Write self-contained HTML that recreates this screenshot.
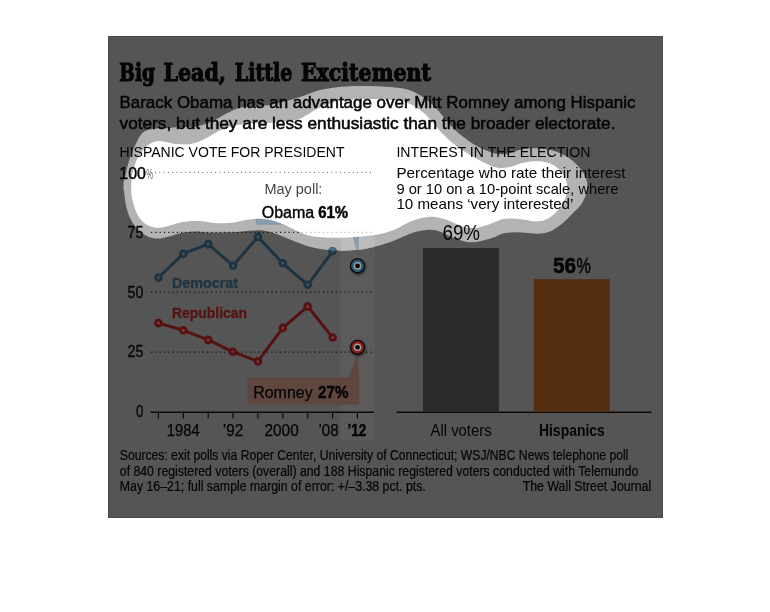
<!DOCTYPE html>
<html><head><meta charset="utf-8"><title>Big Lead, Little Excitement</title>
<style>
html,body{margin:0;padding:0;background:#fff;}
svg{display:block;}
text{font-family:"Liberation Sans","DejaVu Sans",sans-serif;}
.t{font-family:"DejaVu Serif Condensed","DejaVu Serif","Liberation Serif",serif;font-weight:bold;}
.b{font-weight:bold;}
</style></head><body>
<svg width="770" height="612" viewBox="0 0 770 612">
<defs>
<clipPath id="co"><path d="M123.5 188.0C123.5 185.8 123.6 182.2 123.9 180.0C124.2 177.8 124.8 177.5 125.5 174.9C126.2 172.3 126.9 168.1 128.0 164.4C129.1 160.7 130.6 156.4 132.0 152.7C133.4 149.0 135.1 145.2 136.6 142.2C138.1 139.1 139.5 136.3 141.1 134.4C142.7 132.5 144.2 131.4 146.4 130.5C148.6 129.6 151.8 129.2 154.2 128.8C156.5 128.4 157.7 128.5 160.5 128.3C163.3 128.1 167.0 127.9 170.9 127.7C174.8 127.5 179.8 127.2 184.0 127.0C188.2 126.8 192.1 126.9 195.8 126.4C199.5 125.9 202.9 124.9 206.2 123.8C209.5 122.7 212.3 121.3 215.4 119.8C218.5 118.3 221.4 116.2 224.5 114.6C227.6 113.0 230.9 111.2 233.7 110.0C236.5 108.8 238.1 108.1 241.5 107.4C244.9 106.8 250.3 106.4 254.2 106.1C258.1 105.8 261.4 105.8 264.7 105.5C268.0 105.2 270.1 105.0 273.8 104.2C277.5 103.4 282.5 102.1 286.9 100.9C291.3 99.7 295.3 98.6 300.0 97.0C304.7 95.4 310.8 92.7 315.0 91.4C319.2 90.1 321.6 89.7 325.5 89.0C329.4 88.3 333.7 87.5 338.5 87.0C343.3 86.5 349.0 86.2 354.2 86.0C359.4 85.8 364.7 85.9 369.9 86.0C375.1 86.1 380.6 86.4 385.6 86.7C390.6 87.0 395.9 87.4 400.0 88.0C404.1 88.6 407.2 89.3 410.5 90.5C413.8 91.7 416.6 93.2 419.6 95.0C422.7 96.8 426.0 99.3 428.8 101.6C431.6 103.9 434.2 106.3 436.6 108.8C439.0 111.3 440.9 114.0 443.1 116.6C445.3 119.2 447.5 122.0 449.7 124.4C451.9 126.8 453.8 128.8 456.2 131.0C458.6 133.2 461.2 135.3 464.0 137.5C466.8 139.7 469.9 142.0 473.2 144.0C476.5 146.0 480.2 147.8 483.7 149.3C487.2 150.8 490.9 152.4 494.1 153.2C497.3 154.0 500.0 154.2 502.8 154.2C505.6 154.1 507.7 153.7 510.7 152.9C513.7 152.1 517.1 150.4 521.0 149.6C524.9 148.8 529.8 148.3 534.2 148.3C538.6 148.3 543.4 148.9 547.3 149.6C551.2 150.2 554.2 150.9 557.7 152.2C561.2 153.5 565.2 155.5 568.2 157.5C571.2 159.5 573.6 161.6 576.0 164.0C578.4 166.4 580.9 169.2 582.6 171.8C584.4 174.4 585.7 177.1 586.5 179.7C587.3 182.3 587.4 184.7 587.2 187.5C587.0 190.3 586.4 193.6 585.2 196.7C584.0 199.8 582.2 202.9 580.0 205.8C577.8 208.7 574.4 211.6 572.0 214.0C569.6 216.4 568.0 218.3 565.6 220.5C563.2 222.7 560.3 225.2 557.7 227.0C555.1 228.8 552.7 230.5 549.9 231.6C547.1 232.7 544.5 233.4 540.8 233.6C537.1 233.8 532.1 233.1 527.7 232.9C523.3 232.7 518.8 232.2 514.6 232.3C510.5 232.4 506.1 232.8 502.8 233.6C499.5 234.4 498.1 235.9 495.0 237.0C491.9 238.1 487.5 239.4 483.9 240.3C480.3 241.2 476.9 242.2 473.4 242.3C469.9 242.4 466.3 241.8 463.0 241.0C459.7 240.2 456.9 238.9 453.8 237.7C450.8 236.5 447.5 235.0 444.7 233.8C441.9 232.6 439.9 231.2 436.8 230.5C433.8 229.8 429.9 229.7 426.4 229.9C422.9 230.1 419.4 230.8 415.9 231.8C412.4 232.8 409.0 234.4 405.5 235.8C402.0 237.2 399.0 238.8 395.0 240.3C391.0 241.8 385.8 243.6 381.3 244.9C376.8 246.2 372.6 247.3 368.2 248.2C363.8 249.1 359.5 249.7 355.1 250.1C350.7 250.5 346.4 250.8 342.0 250.8C337.6 250.8 333.4 250.5 329.0 250.1C324.6 249.7 319.8 248.9 315.9 248.2C312.0 247.4 309.0 246.7 305.5 245.6C302.0 244.5 298.6 243.0 295.0 241.6C291.4 240.2 287.5 238.4 283.9 237.0C280.3 235.6 276.9 234.2 273.4 233.1C269.9 232.0 266.3 230.9 263.0 230.5C259.7 230.1 256.9 230.4 253.8 230.5C250.8 230.6 248.0 230.9 244.7 231.2C241.4 231.5 238.1 231.9 234.2 232.1C230.2 232.3 225.4 232.4 221.0 232.5C216.6 232.6 212.2 232.7 208.0 232.5C203.8 232.3 199.7 231.6 196.0 231.6C192.3 231.6 188.9 231.9 185.6 232.3C182.3 232.7 179.4 233.4 176.4 234.2C173.4 235.0 170.4 236.2 167.3 236.9C164.2 237.6 161.2 238.6 158.1 238.6C155.0 238.6 151.8 237.9 149.0 236.9C146.2 235.9 143.5 234.2 141.1 232.3C138.7 230.5 136.5 228.4 134.6 225.8C132.7 223.2 130.8 219.9 129.4 216.6C128.0 213.3 127.0 210.0 126.1 206.1C125.2 202.2 124.6 196.1 124.2 193.1C123.8 190.1 123.5 190.2 123.5 188.0Z"/></clipPath>
<clipPath id="ci"><path d="M131.3 187.0C131.3 184.5 131.3 180.4 131.5 178.0C131.7 175.6 131.9 175.0 132.6 172.3C133.3 169.6 134.5 165.1 135.9 161.8C137.3 158.5 139.1 155.4 141.1 152.7C143.1 150.0 145.5 147.3 147.7 145.5C149.9 143.7 152.2 142.6 154.2 141.8C156.1 141.1 157.3 140.9 159.4 141.0C161.5 141.1 164.2 141.8 167.0 142.3C169.8 142.8 172.8 143.7 176.1 144.0C179.4 144.3 183.3 144.6 186.6 144.4C189.9 144.2 192.8 143.6 195.8 142.7C198.9 141.8 201.6 140.4 204.9 138.8C208.2 137.2 212.4 134.5 215.4 132.9C218.4 131.3 220.1 130.2 223.2 129.0C226.2 127.8 230.6 126.5 233.7 125.7C236.8 124.9 238.8 124.8 241.5 124.4C244.2 124.0 245.8 123.4 250.0 123.2C254.2 123.0 261.2 123.3 267.0 123.0C272.8 122.7 279.7 122.1 285.0 121.5C290.3 120.9 295.1 120.2 298.7 119.2C302.3 118.2 303.8 116.8 306.5 115.3C309.2 113.8 312.3 111.5 315.0 110.0C317.7 108.5 319.5 107.3 322.8 106.0C326.1 104.7 330.5 103.0 334.6 102.0C338.8 101.0 342.2 100.3 347.7 99.8C353.1 99.3 360.8 99.1 367.3 99.0C373.8 98.9 381.4 99.1 386.9 99.4C392.3 99.7 396.5 100.3 400.0 100.9C403.5 101.5 405.2 101.9 407.8 102.9C410.4 103.9 413.1 105.2 415.7 106.8C418.3 108.4 420.9 110.4 423.5 112.7C426.1 115.0 429.0 117.9 431.4 120.5C433.8 123.1 435.7 125.9 437.9 128.4C440.1 130.9 442.0 133.2 444.4 135.6C446.8 138.0 449.7 140.5 452.3 142.7C454.9 144.9 457.3 146.6 460.1 148.6C462.9 150.6 466.2 152.7 469.3 154.5C472.4 156.3 475.4 158.1 478.4 159.7C481.3 161.3 484.2 162.7 487.0 164.0C489.8 165.3 492.4 166.7 495.0 167.3C497.6 168.0 500.0 168.0 502.8 167.9C505.6 167.8 509.0 167.4 512.0 166.6C515.0 165.8 517.7 164.2 521.0 163.3C524.3 162.4 528.1 161.7 531.6 161.4C535.1 161.1 538.7 161.0 542.0 161.4C545.3 161.8 548.4 162.7 551.2 164.0C554.0 165.3 556.8 167.2 559.0 169.2C561.2 171.2 563.0 173.4 564.3 175.8C565.6 178.2 566.5 181.0 566.9 183.6C567.3 186.2 567.3 188.6 566.9 191.4C566.5 194.2 565.6 197.7 564.3 200.6C563.0 203.5 561.2 206.3 559.0 209.0C556.8 211.7 553.8 214.7 551.2 216.6C548.6 218.5 546.2 219.7 543.4 220.5C540.6 221.3 537.9 221.4 534.2 221.2C530.5 221.0 525.4 219.6 521.0 219.2C516.6 218.8 511.5 218.5 508.0 218.6C504.5 218.7 502.4 219.3 500.2 219.9C498.0 220.5 497.3 221.1 495.0 222.0C492.7 222.9 489.7 224.3 486.5 225.3C483.3 226.3 479.5 227.6 476.0 227.9C472.5 228.2 468.9 228.0 465.6 227.3C462.3 226.7 459.4 225.2 456.4 224.0C453.3 222.8 450.6 221.1 447.3 220.0C444.0 218.9 440.3 217.7 436.8 217.2C433.3 216.7 429.9 216.8 426.4 217.2C422.9 217.6 419.4 218.3 415.9 219.4C412.4 220.5 409.0 222.3 405.5 224.0C402.0 225.7 399.0 227.9 395.0 229.5C391.0 231.1 385.8 232.8 381.3 233.8C376.8 234.9 372.6 235.3 368.2 235.8C363.8 236.3 359.5 236.7 355.1 237.0C350.7 237.3 346.4 237.6 342.0 237.7C337.6 237.8 333.4 237.8 329.0 237.7C324.6 237.5 319.8 237.4 315.9 236.8C312.0 236.2 309.0 235.5 305.5 234.4C302.0 233.3 298.6 231.6 295.0 230.0C291.4 228.4 287.5 226.2 283.9 224.6C280.3 223.0 276.9 221.6 273.4 220.7C269.9 219.8 266.3 219.3 263.0 219.0C259.7 218.7 256.9 218.8 253.8 219.0C250.8 219.2 248.0 219.7 244.7 220.3C241.4 220.9 238.1 221.9 234.2 222.4C230.3 222.9 224.8 223.2 221.1 223.3C217.4 223.4 214.8 223.0 212.0 222.7C209.2 222.4 207.0 221.7 204.2 221.4C201.4 221.1 197.4 221.1 195.0 221.1C192.6 221.1 191.9 221.0 189.5 221.2C187.1 221.4 183.5 221.8 180.4 222.5C177.3 223.2 174.0 224.3 171.2 225.1C168.4 225.9 166.0 226.9 163.4 227.3C160.8 227.7 158.1 228.1 155.5 227.7C152.9 227.3 150.1 226.4 147.7 225.1C145.3 223.8 142.9 222.0 141.1 219.9C139.2 217.8 137.9 215.4 136.6 212.7C135.3 210.0 134.2 206.8 133.3 203.5C132.4 200.2 131.6 195.8 131.3 193.1C131.0 190.3 131.3 189.5 131.3 187.0Z"/></clipPath>
<clipPath id="dk"><path clip-rule="evenodd" d="M108 36H663V518H108Z M123.5 188.0C123.5 185.8 123.6 182.2 123.9 180.0C124.2 177.8 124.8 177.5 125.5 174.9C126.2 172.3 126.9 168.1 128.0 164.4C129.1 160.7 130.6 156.4 132.0 152.7C133.4 149.0 135.1 145.2 136.6 142.2C138.1 139.1 139.5 136.3 141.1 134.4C142.7 132.5 144.2 131.4 146.4 130.5C148.6 129.6 151.8 129.2 154.2 128.8C156.5 128.4 157.7 128.5 160.5 128.3C163.3 128.1 167.0 127.9 170.9 127.7C174.8 127.5 179.8 127.2 184.0 127.0C188.2 126.8 192.1 126.9 195.8 126.4C199.5 125.9 202.9 124.9 206.2 123.8C209.5 122.7 212.3 121.3 215.4 119.8C218.5 118.3 221.4 116.2 224.5 114.6C227.6 113.0 230.9 111.2 233.7 110.0C236.5 108.8 238.1 108.1 241.5 107.4C244.9 106.8 250.3 106.4 254.2 106.1C258.1 105.8 261.4 105.8 264.7 105.5C268.0 105.2 270.1 105.0 273.8 104.2C277.5 103.4 282.5 102.1 286.9 100.9C291.3 99.7 295.3 98.6 300.0 97.0C304.7 95.4 310.8 92.7 315.0 91.4C319.2 90.1 321.6 89.7 325.5 89.0C329.4 88.3 333.7 87.5 338.5 87.0C343.3 86.5 349.0 86.2 354.2 86.0C359.4 85.8 364.7 85.9 369.9 86.0C375.1 86.1 380.6 86.4 385.6 86.7C390.6 87.0 395.9 87.4 400.0 88.0C404.1 88.6 407.2 89.3 410.5 90.5C413.8 91.7 416.6 93.2 419.6 95.0C422.7 96.8 426.0 99.3 428.8 101.6C431.6 103.9 434.2 106.3 436.6 108.8C439.0 111.3 440.9 114.0 443.1 116.6C445.3 119.2 447.5 122.0 449.7 124.4C451.9 126.8 453.8 128.8 456.2 131.0C458.6 133.2 461.2 135.3 464.0 137.5C466.8 139.7 469.9 142.0 473.2 144.0C476.5 146.0 480.2 147.8 483.7 149.3C487.2 150.8 490.9 152.4 494.1 153.2C497.3 154.0 500.0 154.2 502.8 154.2C505.6 154.1 507.7 153.7 510.7 152.9C513.7 152.1 517.1 150.4 521.0 149.6C524.9 148.8 529.8 148.3 534.2 148.3C538.6 148.3 543.4 148.9 547.3 149.6C551.2 150.2 554.2 150.9 557.7 152.2C561.2 153.5 565.2 155.5 568.2 157.5C571.2 159.5 573.6 161.6 576.0 164.0C578.4 166.4 580.9 169.2 582.6 171.8C584.4 174.4 585.7 177.1 586.5 179.7C587.3 182.3 587.4 184.7 587.2 187.5C587.0 190.3 586.4 193.6 585.2 196.7C584.0 199.8 582.2 202.9 580.0 205.8C577.8 208.7 574.4 211.6 572.0 214.0C569.6 216.4 568.0 218.3 565.6 220.5C563.2 222.7 560.3 225.2 557.7 227.0C555.1 228.8 552.7 230.5 549.9 231.6C547.1 232.7 544.5 233.4 540.8 233.6C537.1 233.8 532.1 233.1 527.7 232.9C523.3 232.7 518.8 232.2 514.6 232.3C510.5 232.4 506.1 232.8 502.8 233.6C499.5 234.4 498.1 235.9 495.0 237.0C491.9 238.1 487.5 239.4 483.9 240.3C480.3 241.2 476.9 242.2 473.4 242.3C469.9 242.4 466.3 241.8 463.0 241.0C459.7 240.2 456.9 238.9 453.8 237.7C450.8 236.5 447.5 235.0 444.7 233.8C441.9 232.6 439.9 231.2 436.8 230.5C433.8 229.8 429.9 229.7 426.4 229.9C422.9 230.1 419.4 230.8 415.9 231.8C412.4 232.8 409.0 234.4 405.5 235.8C402.0 237.2 399.0 238.8 395.0 240.3C391.0 241.8 385.8 243.6 381.3 244.9C376.8 246.2 372.6 247.3 368.2 248.2C363.8 249.1 359.5 249.7 355.1 250.1C350.7 250.5 346.4 250.8 342.0 250.8C337.6 250.8 333.4 250.5 329.0 250.1C324.6 249.7 319.8 248.9 315.9 248.2C312.0 247.4 309.0 246.7 305.5 245.6C302.0 244.5 298.6 243.0 295.0 241.6C291.4 240.2 287.5 238.4 283.9 237.0C280.3 235.6 276.9 234.2 273.4 233.1C269.9 232.0 266.3 230.9 263.0 230.5C259.7 230.1 256.9 230.4 253.8 230.5C250.8 230.6 248.0 230.9 244.7 231.2C241.4 231.5 238.1 231.9 234.2 232.1C230.2 232.3 225.4 232.4 221.0 232.5C216.6 232.6 212.2 232.7 208.0 232.5C203.8 232.3 199.7 231.6 196.0 231.6C192.3 231.6 188.9 231.9 185.6 232.3C182.3 232.7 179.4 233.4 176.4 234.2C173.4 235.0 170.4 236.2 167.3 236.9C164.2 237.6 161.2 238.6 158.1 238.6C155.0 238.6 151.8 237.9 149.0 236.9C146.2 235.9 143.5 234.2 141.1 232.3C138.7 230.5 136.5 228.4 134.6 225.8C132.7 223.2 130.8 219.9 129.4 216.6C128.0 213.3 127.0 210.0 126.1 206.1C125.2 202.2 124.6 196.1 124.2 193.1C123.8 190.1 123.5 190.2 123.5 188.0Z"/></clipPath>
<clipPath id="rg"><path clip-rule="evenodd" d="M123.5 188.0C123.5 185.8 123.6 182.2 123.9 180.0C124.2 177.8 124.8 177.5 125.5 174.9C126.2 172.3 126.9 168.1 128.0 164.4C129.1 160.7 130.6 156.4 132.0 152.7C133.4 149.0 135.1 145.2 136.6 142.2C138.1 139.1 139.5 136.3 141.1 134.4C142.7 132.5 144.2 131.4 146.4 130.5C148.6 129.6 151.8 129.2 154.2 128.8C156.5 128.4 157.7 128.5 160.5 128.3C163.3 128.1 167.0 127.9 170.9 127.7C174.8 127.5 179.8 127.2 184.0 127.0C188.2 126.8 192.1 126.9 195.8 126.4C199.5 125.9 202.9 124.9 206.2 123.8C209.5 122.7 212.3 121.3 215.4 119.8C218.5 118.3 221.4 116.2 224.5 114.6C227.6 113.0 230.9 111.2 233.7 110.0C236.5 108.8 238.1 108.1 241.5 107.4C244.9 106.8 250.3 106.4 254.2 106.1C258.1 105.8 261.4 105.8 264.7 105.5C268.0 105.2 270.1 105.0 273.8 104.2C277.5 103.4 282.5 102.1 286.9 100.9C291.3 99.7 295.3 98.6 300.0 97.0C304.7 95.4 310.8 92.7 315.0 91.4C319.2 90.1 321.6 89.7 325.5 89.0C329.4 88.3 333.7 87.5 338.5 87.0C343.3 86.5 349.0 86.2 354.2 86.0C359.4 85.8 364.7 85.9 369.9 86.0C375.1 86.1 380.6 86.4 385.6 86.7C390.6 87.0 395.9 87.4 400.0 88.0C404.1 88.6 407.2 89.3 410.5 90.5C413.8 91.7 416.6 93.2 419.6 95.0C422.7 96.8 426.0 99.3 428.8 101.6C431.6 103.9 434.2 106.3 436.6 108.8C439.0 111.3 440.9 114.0 443.1 116.6C445.3 119.2 447.5 122.0 449.7 124.4C451.9 126.8 453.8 128.8 456.2 131.0C458.6 133.2 461.2 135.3 464.0 137.5C466.8 139.7 469.9 142.0 473.2 144.0C476.5 146.0 480.2 147.8 483.7 149.3C487.2 150.8 490.9 152.4 494.1 153.2C497.3 154.0 500.0 154.2 502.8 154.2C505.6 154.1 507.7 153.7 510.7 152.9C513.7 152.1 517.1 150.4 521.0 149.6C524.9 148.8 529.8 148.3 534.2 148.3C538.6 148.3 543.4 148.9 547.3 149.6C551.2 150.2 554.2 150.9 557.7 152.2C561.2 153.5 565.2 155.5 568.2 157.5C571.2 159.5 573.6 161.6 576.0 164.0C578.4 166.4 580.9 169.2 582.6 171.8C584.4 174.4 585.7 177.1 586.5 179.7C587.3 182.3 587.4 184.7 587.2 187.5C587.0 190.3 586.4 193.6 585.2 196.7C584.0 199.8 582.2 202.9 580.0 205.8C577.8 208.7 574.4 211.6 572.0 214.0C569.6 216.4 568.0 218.3 565.6 220.5C563.2 222.7 560.3 225.2 557.7 227.0C555.1 228.8 552.7 230.5 549.9 231.6C547.1 232.7 544.5 233.4 540.8 233.6C537.1 233.8 532.1 233.1 527.7 232.9C523.3 232.7 518.8 232.2 514.6 232.3C510.5 232.4 506.1 232.8 502.8 233.6C499.5 234.4 498.1 235.9 495.0 237.0C491.9 238.1 487.5 239.4 483.9 240.3C480.3 241.2 476.9 242.2 473.4 242.3C469.9 242.4 466.3 241.8 463.0 241.0C459.7 240.2 456.9 238.9 453.8 237.7C450.8 236.5 447.5 235.0 444.7 233.8C441.9 232.6 439.9 231.2 436.8 230.5C433.8 229.8 429.9 229.7 426.4 229.9C422.9 230.1 419.4 230.8 415.9 231.8C412.4 232.8 409.0 234.4 405.5 235.8C402.0 237.2 399.0 238.8 395.0 240.3C391.0 241.8 385.8 243.6 381.3 244.9C376.8 246.2 372.6 247.3 368.2 248.2C363.8 249.1 359.5 249.7 355.1 250.1C350.7 250.5 346.4 250.8 342.0 250.8C337.6 250.8 333.4 250.5 329.0 250.1C324.6 249.7 319.8 248.9 315.9 248.2C312.0 247.4 309.0 246.7 305.5 245.6C302.0 244.5 298.6 243.0 295.0 241.6C291.4 240.2 287.5 238.4 283.9 237.0C280.3 235.6 276.9 234.2 273.4 233.1C269.9 232.0 266.3 230.9 263.0 230.5C259.7 230.1 256.9 230.4 253.8 230.5C250.8 230.6 248.0 230.9 244.7 231.2C241.4 231.5 238.1 231.9 234.2 232.1C230.2 232.3 225.4 232.4 221.0 232.5C216.6 232.6 212.2 232.7 208.0 232.5C203.8 232.3 199.7 231.6 196.0 231.6C192.3 231.6 188.9 231.9 185.6 232.3C182.3 232.7 179.4 233.4 176.4 234.2C173.4 235.0 170.4 236.2 167.3 236.9C164.2 237.6 161.2 238.6 158.1 238.6C155.0 238.6 151.8 237.9 149.0 236.9C146.2 235.9 143.5 234.2 141.1 232.3C138.7 230.5 136.5 228.4 134.6 225.8C132.7 223.2 130.8 219.9 129.4 216.6C128.0 213.3 127.0 210.0 126.1 206.1C125.2 202.2 124.6 196.1 124.2 193.1C123.8 190.1 123.5 190.2 123.5 188.0Z M131.3 187.0C131.3 184.5 131.3 180.4 131.5 178.0C131.7 175.6 131.9 175.0 132.6 172.3C133.3 169.6 134.5 165.1 135.9 161.8C137.3 158.5 139.1 155.4 141.1 152.7C143.1 150.0 145.5 147.3 147.7 145.5C149.9 143.7 152.2 142.6 154.2 141.8C156.1 141.1 157.3 140.9 159.4 141.0C161.5 141.1 164.2 141.8 167.0 142.3C169.8 142.8 172.8 143.7 176.1 144.0C179.4 144.3 183.3 144.6 186.6 144.4C189.9 144.2 192.8 143.6 195.8 142.7C198.9 141.8 201.6 140.4 204.9 138.8C208.2 137.2 212.4 134.5 215.4 132.9C218.4 131.3 220.1 130.2 223.2 129.0C226.2 127.8 230.6 126.5 233.7 125.7C236.8 124.9 238.8 124.8 241.5 124.4C244.2 124.0 245.8 123.4 250.0 123.2C254.2 123.0 261.2 123.3 267.0 123.0C272.8 122.7 279.7 122.1 285.0 121.5C290.3 120.9 295.1 120.2 298.7 119.2C302.3 118.2 303.8 116.8 306.5 115.3C309.2 113.8 312.3 111.5 315.0 110.0C317.7 108.5 319.5 107.3 322.8 106.0C326.1 104.7 330.5 103.0 334.6 102.0C338.8 101.0 342.2 100.3 347.7 99.8C353.1 99.3 360.8 99.1 367.3 99.0C373.8 98.9 381.4 99.1 386.9 99.4C392.3 99.7 396.5 100.3 400.0 100.9C403.5 101.5 405.2 101.9 407.8 102.9C410.4 103.9 413.1 105.2 415.7 106.8C418.3 108.4 420.9 110.4 423.5 112.7C426.1 115.0 429.0 117.9 431.4 120.5C433.8 123.1 435.7 125.9 437.9 128.4C440.1 130.9 442.0 133.2 444.4 135.6C446.8 138.0 449.7 140.5 452.3 142.7C454.9 144.9 457.3 146.6 460.1 148.6C462.9 150.6 466.2 152.7 469.3 154.5C472.4 156.3 475.4 158.1 478.4 159.7C481.3 161.3 484.2 162.7 487.0 164.0C489.8 165.3 492.4 166.7 495.0 167.3C497.6 168.0 500.0 168.0 502.8 167.9C505.6 167.8 509.0 167.4 512.0 166.6C515.0 165.8 517.7 164.2 521.0 163.3C524.3 162.4 528.1 161.7 531.6 161.4C535.1 161.1 538.7 161.0 542.0 161.4C545.3 161.8 548.4 162.7 551.2 164.0C554.0 165.3 556.8 167.2 559.0 169.2C561.2 171.2 563.0 173.4 564.3 175.8C565.6 178.2 566.5 181.0 566.9 183.6C567.3 186.2 567.3 188.6 566.9 191.4C566.5 194.2 565.6 197.7 564.3 200.6C563.0 203.5 561.2 206.3 559.0 209.0C556.8 211.7 553.8 214.7 551.2 216.6C548.6 218.5 546.2 219.7 543.4 220.5C540.6 221.3 537.9 221.4 534.2 221.2C530.5 221.0 525.4 219.6 521.0 219.2C516.6 218.8 511.5 218.5 508.0 218.6C504.5 218.7 502.4 219.3 500.2 219.9C498.0 220.5 497.3 221.1 495.0 222.0C492.7 222.9 489.7 224.3 486.5 225.3C483.3 226.3 479.5 227.6 476.0 227.9C472.5 228.2 468.9 228.0 465.6 227.3C462.3 226.7 459.4 225.2 456.4 224.0C453.3 222.8 450.6 221.1 447.3 220.0C444.0 218.9 440.3 217.7 436.8 217.2C433.3 216.7 429.9 216.8 426.4 217.2C422.9 217.6 419.4 218.3 415.9 219.4C412.4 220.5 409.0 222.3 405.5 224.0C402.0 225.7 399.0 227.9 395.0 229.5C391.0 231.1 385.8 232.8 381.3 233.8C376.8 234.9 372.6 235.3 368.2 235.8C363.8 236.3 359.5 236.7 355.1 237.0C350.7 237.3 346.4 237.6 342.0 237.7C337.6 237.8 333.4 237.8 329.0 237.7C324.6 237.5 319.8 237.4 315.9 236.8C312.0 236.2 309.0 235.5 305.5 234.4C302.0 233.3 298.6 231.6 295.0 230.0C291.4 228.4 287.5 226.2 283.9 224.6C280.3 223.0 276.9 221.6 273.4 220.7C269.9 219.8 266.3 219.3 263.0 219.0C259.7 218.7 256.9 218.8 253.8 219.0C250.8 219.2 248.0 219.7 244.7 220.3C241.4 220.9 238.1 221.9 234.2 222.4C230.3 222.9 224.8 223.2 221.1 223.3C217.4 223.4 214.8 223.0 212.0 222.7C209.2 222.4 207.0 221.7 204.2 221.4C201.4 221.1 197.4 221.1 195.0 221.1C192.6 221.1 191.9 221.0 189.5 221.2C187.1 221.4 183.5 221.8 180.4 222.5C177.3 223.2 174.0 224.3 171.2 225.1C168.4 225.9 166.0 226.9 163.4 227.3C160.8 227.7 158.1 228.1 155.5 227.7C152.9 227.3 150.1 226.4 147.7 225.1C145.3 223.8 142.9 222.0 141.1 219.9C139.2 217.8 137.9 215.4 136.6 212.7C135.3 210.0 134.2 206.8 133.3 203.5C132.4 200.2 131.6 195.8 131.3 193.1C131.0 190.3 131.3 189.5 131.3 187.0Z"/></clipPath>
<clipPath id="ni"><path clip-rule="evenodd" d="M108 36H663V518H108Z M131.3 187.0C131.3 184.5 131.3 180.4 131.5 178.0C131.7 175.6 131.9 175.0 132.6 172.3C133.3 169.6 134.5 165.1 135.9 161.8C137.3 158.5 139.1 155.4 141.1 152.7C143.1 150.0 145.5 147.3 147.7 145.5C149.9 143.7 152.2 142.6 154.2 141.8C156.1 141.1 157.3 140.9 159.4 141.0C161.5 141.1 164.2 141.8 167.0 142.3C169.8 142.8 172.8 143.7 176.1 144.0C179.4 144.3 183.3 144.6 186.6 144.4C189.9 144.2 192.8 143.6 195.8 142.7C198.9 141.8 201.6 140.4 204.9 138.8C208.2 137.2 212.4 134.5 215.4 132.9C218.4 131.3 220.1 130.2 223.2 129.0C226.2 127.8 230.6 126.5 233.7 125.7C236.8 124.9 238.8 124.8 241.5 124.4C244.2 124.0 245.8 123.4 250.0 123.2C254.2 123.0 261.2 123.3 267.0 123.0C272.8 122.7 279.7 122.1 285.0 121.5C290.3 120.9 295.1 120.2 298.7 119.2C302.3 118.2 303.8 116.8 306.5 115.3C309.2 113.8 312.3 111.5 315.0 110.0C317.7 108.5 319.5 107.3 322.8 106.0C326.1 104.7 330.5 103.0 334.6 102.0C338.8 101.0 342.2 100.3 347.7 99.8C353.1 99.3 360.8 99.1 367.3 99.0C373.8 98.9 381.4 99.1 386.9 99.4C392.3 99.7 396.5 100.3 400.0 100.9C403.5 101.5 405.2 101.9 407.8 102.9C410.4 103.9 413.1 105.2 415.7 106.8C418.3 108.4 420.9 110.4 423.5 112.7C426.1 115.0 429.0 117.9 431.4 120.5C433.8 123.1 435.7 125.9 437.9 128.4C440.1 130.9 442.0 133.2 444.4 135.6C446.8 138.0 449.7 140.5 452.3 142.7C454.9 144.9 457.3 146.6 460.1 148.6C462.9 150.6 466.2 152.7 469.3 154.5C472.4 156.3 475.4 158.1 478.4 159.7C481.3 161.3 484.2 162.7 487.0 164.0C489.8 165.3 492.4 166.7 495.0 167.3C497.6 168.0 500.0 168.0 502.8 167.9C505.6 167.8 509.0 167.4 512.0 166.6C515.0 165.8 517.7 164.2 521.0 163.3C524.3 162.4 528.1 161.7 531.6 161.4C535.1 161.1 538.7 161.0 542.0 161.4C545.3 161.8 548.4 162.7 551.2 164.0C554.0 165.3 556.8 167.2 559.0 169.2C561.2 171.2 563.0 173.4 564.3 175.8C565.6 178.2 566.5 181.0 566.9 183.6C567.3 186.2 567.3 188.6 566.9 191.4C566.5 194.2 565.6 197.7 564.3 200.6C563.0 203.5 561.2 206.3 559.0 209.0C556.8 211.7 553.8 214.7 551.2 216.6C548.6 218.5 546.2 219.7 543.4 220.5C540.6 221.3 537.9 221.4 534.2 221.2C530.5 221.0 525.4 219.6 521.0 219.2C516.6 218.8 511.5 218.5 508.0 218.6C504.5 218.7 502.4 219.3 500.2 219.9C498.0 220.5 497.3 221.1 495.0 222.0C492.7 222.9 489.7 224.3 486.5 225.3C483.3 226.3 479.5 227.6 476.0 227.9C472.5 228.2 468.9 228.0 465.6 227.3C462.3 226.7 459.4 225.2 456.4 224.0C453.3 222.8 450.6 221.1 447.3 220.0C444.0 218.9 440.3 217.7 436.8 217.2C433.3 216.7 429.9 216.8 426.4 217.2C422.9 217.6 419.4 218.3 415.9 219.4C412.4 220.5 409.0 222.3 405.5 224.0C402.0 225.7 399.0 227.9 395.0 229.5C391.0 231.1 385.8 232.8 381.3 233.8C376.8 234.9 372.6 235.3 368.2 235.8C363.8 236.3 359.5 236.7 355.1 237.0C350.7 237.3 346.4 237.6 342.0 237.7C337.6 237.8 333.4 237.8 329.0 237.7C324.6 237.5 319.8 237.4 315.9 236.8C312.0 236.2 309.0 235.5 305.5 234.4C302.0 233.3 298.6 231.6 295.0 230.0C291.4 228.4 287.5 226.2 283.9 224.6C280.3 223.0 276.9 221.6 273.4 220.7C269.9 219.8 266.3 219.3 263.0 219.0C259.7 218.7 256.9 218.8 253.8 219.0C250.8 219.2 248.0 219.7 244.7 220.3C241.4 220.9 238.1 221.9 234.2 222.4C230.3 222.9 224.8 223.2 221.1 223.3C217.4 223.4 214.8 223.0 212.0 222.7C209.2 222.4 207.0 221.7 204.2 221.4C201.4 221.1 197.4 221.1 195.0 221.1C192.6 221.1 191.9 221.0 189.5 221.2C187.1 221.4 183.5 221.8 180.4 222.5C177.3 223.2 174.0 224.3 171.2 225.1C168.4 225.9 166.0 226.9 163.4 227.3C160.8 227.7 158.1 228.1 155.5 227.7C152.9 227.3 150.1 226.4 147.7 225.1C145.3 223.8 142.9 222.0 141.1 219.9C139.2 217.8 137.9 215.4 136.6 212.7C135.3 210.0 134.2 206.8 133.3 203.5C132.4 200.2 131.6 195.8 131.3 193.1C131.0 190.3 131.3 189.5 131.3 187.0Z"/></clipPath>
<filter id="sh" x="-50%" y="-50%" width="200%" height="200%"><feGaussianBlur stdDeviation="1.3"/></filter>
</defs>
<rect x="0" y="0" width="770" height="612" fill="#fff"/>
<rect x="108" y="36" width="555" height="482" fill="#555"/>
<rect x="108.5" y="36.5" width="554" height="481" fill="none" stroke="#4a4a4a" stroke-width="1"/>
<!-- 2012 band (dark) -->
<rect x="340.6" y="172" width="34" height="268" fill="#5b5b5b"/>
<!-- spotlight -->
<path d="M123.5 188.0C123.5 185.8 123.6 182.2 123.9 180.0C124.2 177.8 124.8 177.5 125.5 174.9C126.2 172.3 126.9 168.1 128.0 164.4C129.1 160.7 130.6 156.4 132.0 152.7C133.4 149.0 135.1 145.2 136.6 142.2C138.1 139.1 139.5 136.3 141.1 134.4C142.7 132.5 144.2 131.4 146.4 130.5C148.6 129.6 151.8 129.2 154.2 128.8C156.5 128.4 157.7 128.5 160.5 128.3C163.3 128.1 167.0 127.9 170.9 127.7C174.8 127.5 179.8 127.2 184.0 127.0C188.2 126.8 192.1 126.9 195.8 126.4C199.5 125.9 202.9 124.9 206.2 123.8C209.5 122.7 212.3 121.3 215.4 119.8C218.5 118.3 221.4 116.2 224.5 114.6C227.6 113.0 230.9 111.2 233.7 110.0C236.5 108.8 238.1 108.1 241.5 107.4C244.9 106.8 250.3 106.4 254.2 106.1C258.1 105.8 261.4 105.8 264.7 105.5C268.0 105.2 270.1 105.0 273.8 104.2C277.5 103.4 282.5 102.1 286.9 100.9C291.3 99.7 295.3 98.6 300.0 97.0C304.7 95.4 310.8 92.7 315.0 91.4C319.2 90.1 321.6 89.7 325.5 89.0C329.4 88.3 333.7 87.5 338.5 87.0C343.3 86.5 349.0 86.2 354.2 86.0C359.4 85.8 364.7 85.9 369.9 86.0C375.1 86.1 380.6 86.4 385.6 86.7C390.6 87.0 395.9 87.4 400.0 88.0C404.1 88.6 407.2 89.3 410.5 90.5C413.8 91.7 416.6 93.2 419.6 95.0C422.7 96.8 426.0 99.3 428.8 101.6C431.6 103.9 434.2 106.3 436.6 108.8C439.0 111.3 440.9 114.0 443.1 116.6C445.3 119.2 447.5 122.0 449.7 124.4C451.9 126.8 453.8 128.8 456.2 131.0C458.6 133.2 461.2 135.3 464.0 137.5C466.8 139.7 469.9 142.0 473.2 144.0C476.5 146.0 480.2 147.8 483.7 149.3C487.2 150.8 490.9 152.4 494.1 153.2C497.3 154.0 500.0 154.2 502.8 154.2C505.6 154.1 507.7 153.7 510.7 152.9C513.7 152.1 517.1 150.4 521.0 149.6C524.9 148.8 529.8 148.3 534.2 148.3C538.6 148.3 543.4 148.9 547.3 149.6C551.2 150.2 554.2 150.9 557.7 152.2C561.2 153.5 565.2 155.5 568.2 157.5C571.2 159.5 573.6 161.6 576.0 164.0C578.4 166.4 580.9 169.2 582.6 171.8C584.4 174.4 585.7 177.1 586.5 179.7C587.3 182.3 587.4 184.7 587.2 187.5C587.0 190.3 586.4 193.6 585.2 196.7C584.0 199.8 582.2 202.9 580.0 205.8C577.8 208.7 574.4 211.6 572.0 214.0C569.6 216.4 568.0 218.3 565.6 220.5C563.2 222.7 560.3 225.2 557.7 227.0C555.1 228.8 552.7 230.5 549.9 231.6C547.1 232.7 544.5 233.4 540.8 233.6C537.1 233.8 532.1 233.1 527.7 232.9C523.3 232.7 518.8 232.2 514.6 232.3C510.5 232.4 506.1 232.8 502.8 233.6C499.5 234.4 498.1 235.9 495.0 237.0C491.9 238.1 487.5 239.4 483.9 240.3C480.3 241.2 476.9 242.2 473.4 242.3C469.9 242.4 466.3 241.8 463.0 241.0C459.7 240.2 456.9 238.9 453.8 237.7C450.8 236.5 447.5 235.0 444.7 233.8C441.9 232.6 439.9 231.2 436.8 230.5C433.8 229.8 429.9 229.7 426.4 229.9C422.9 230.1 419.4 230.8 415.9 231.8C412.4 232.8 409.0 234.4 405.5 235.8C402.0 237.2 399.0 238.8 395.0 240.3C391.0 241.8 385.8 243.6 381.3 244.9C376.8 246.2 372.6 247.3 368.2 248.2C363.8 249.1 359.5 249.7 355.1 250.1C350.7 250.5 346.4 250.8 342.0 250.8C337.6 250.8 333.4 250.5 329.0 250.1C324.6 249.7 319.8 248.9 315.9 248.2C312.0 247.4 309.0 246.7 305.5 245.6C302.0 244.5 298.6 243.0 295.0 241.6C291.4 240.2 287.5 238.4 283.9 237.0C280.3 235.6 276.9 234.2 273.4 233.1C269.9 232.0 266.3 230.9 263.0 230.5C259.7 230.1 256.9 230.4 253.8 230.5C250.8 230.6 248.0 230.9 244.7 231.2C241.4 231.5 238.1 231.9 234.2 232.1C230.2 232.3 225.4 232.4 221.0 232.5C216.6 232.6 212.2 232.7 208.0 232.5C203.8 232.3 199.7 231.6 196.0 231.6C192.3 231.6 188.9 231.9 185.6 232.3C182.3 232.7 179.4 233.4 176.4 234.2C173.4 235.0 170.4 236.2 167.3 236.9C164.2 237.6 161.2 238.6 158.1 238.6C155.0 238.6 151.8 237.9 149.0 236.9C146.2 235.9 143.5 234.2 141.1 232.3C138.7 230.5 136.5 228.4 134.6 225.8C132.7 223.2 130.8 219.9 129.4 216.6C128.0 213.3 127.0 210.0 126.1 206.1C125.2 202.2 124.6 196.1 124.2 193.1C123.8 190.1 123.5 190.2 123.5 188.0Z" fill="#b3b3b3"/>
<g clip-path="url(#co)"><rect x="340.6" y="172" width="34" height="268" fill="#bcbcbc"/>
<rect x="255.7" y="180" width="94" height="44.8" fill="#8a9cac"/>
<polygon points="349,224 359.6,224 358.3,256" fill="#8a9cac"/>
</g>
<path d="M131.3 187.0C131.3 184.5 131.3 180.4 131.5 178.0C131.7 175.6 131.9 175.0 132.6 172.3C133.3 169.6 134.5 165.1 135.9 161.8C137.3 158.5 139.1 155.4 141.1 152.7C143.1 150.0 145.5 147.3 147.7 145.5C149.9 143.7 152.2 142.6 154.2 141.8C156.1 141.1 157.3 140.9 159.4 141.0C161.5 141.1 164.2 141.8 167.0 142.3C169.8 142.8 172.8 143.7 176.1 144.0C179.4 144.3 183.3 144.6 186.6 144.4C189.9 144.2 192.8 143.6 195.8 142.7C198.9 141.8 201.6 140.4 204.9 138.8C208.2 137.2 212.4 134.5 215.4 132.9C218.4 131.3 220.1 130.2 223.2 129.0C226.2 127.8 230.6 126.5 233.7 125.7C236.8 124.9 238.8 124.8 241.5 124.4C244.2 124.0 245.8 123.4 250.0 123.2C254.2 123.0 261.2 123.3 267.0 123.0C272.8 122.7 279.7 122.1 285.0 121.5C290.3 120.9 295.1 120.2 298.7 119.2C302.3 118.2 303.8 116.8 306.5 115.3C309.2 113.8 312.3 111.5 315.0 110.0C317.7 108.5 319.5 107.3 322.8 106.0C326.1 104.7 330.5 103.0 334.6 102.0C338.8 101.0 342.2 100.3 347.7 99.8C353.1 99.3 360.8 99.1 367.3 99.0C373.8 98.9 381.4 99.1 386.9 99.4C392.3 99.7 396.5 100.3 400.0 100.9C403.5 101.5 405.2 101.9 407.8 102.9C410.4 103.9 413.1 105.2 415.7 106.8C418.3 108.4 420.9 110.4 423.5 112.7C426.1 115.0 429.0 117.9 431.4 120.5C433.8 123.1 435.7 125.9 437.9 128.4C440.1 130.9 442.0 133.2 444.4 135.6C446.8 138.0 449.7 140.5 452.3 142.7C454.9 144.9 457.3 146.6 460.1 148.6C462.9 150.6 466.2 152.7 469.3 154.5C472.4 156.3 475.4 158.1 478.4 159.7C481.3 161.3 484.2 162.7 487.0 164.0C489.8 165.3 492.4 166.7 495.0 167.3C497.6 168.0 500.0 168.0 502.8 167.9C505.6 167.8 509.0 167.4 512.0 166.6C515.0 165.8 517.7 164.2 521.0 163.3C524.3 162.4 528.1 161.7 531.6 161.4C535.1 161.1 538.7 161.0 542.0 161.4C545.3 161.8 548.4 162.7 551.2 164.0C554.0 165.3 556.8 167.2 559.0 169.2C561.2 171.2 563.0 173.4 564.3 175.8C565.6 178.2 566.5 181.0 566.9 183.6C567.3 186.2 567.3 188.6 566.9 191.4C566.5 194.2 565.6 197.7 564.3 200.6C563.0 203.5 561.2 206.3 559.0 209.0C556.8 211.7 553.8 214.7 551.2 216.6C548.6 218.5 546.2 219.7 543.4 220.5C540.6 221.3 537.9 221.4 534.2 221.2C530.5 221.0 525.4 219.6 521.0 219.2C516.6 218.8 511.5 218.5 508.0 218.6C504.5 218.7 502.4 219.3 500.2 219.9C498.0 220.5 497.3 221.1 495.0 222.0C492.7 222.9 489.7 224.3 486.5 225.3C483.3 226.3 479.5 227.6 476.0 227.9C472.5 228.2 468.9 228.0 465.6 227.3C462.3 226.7 459.4 225.2 456.4 224.0C453.3 222.8 450.6 221.1 447.3 220.0C444.0 218.9 440.3 217.7 436.8 217.2C433.3 216.7 429.9 216.8 426.4 217.2C422.9 217.6 419.4 218.3 415.9 219.4C412.4 220.5 409.0 222.3 405.5 224.0C402.0 225.7 399.0 227.9 395.0 229.5C391.0 231.1 385.8 232.8 381.3 233.8C376.8 234.9 372.6 235.3 368.2 235.8C363.8 236.3 359.5 236.7 355.1 237.0C350.7 237.3 346.4 237.6 342.0 237.7C337.6 237.8 333.4 237.8 329.0 237.7C324.6 237.5 319.8 237.4 315.9 236.8C312.0 236.2 309.0 235.5 305.5 234.4C302.0 233.3 298.6 231.6 295.0 230.0C291.4 228.4 287.5 226.2 283.9 224.6C280.3 223.0 276.9 221.6 273.4 220.7C269.9 219.8 266.3 219.3 263.0 219.0C259.7 218.7 256.9 218.8 253.8 219.0C250.8 219.2 248.0 219.7 244.7 220.3C241.4 220.9 238.1 221.9 234.2 222.4C230.3 222.9 224.8 223.2 221.1 223.3C217.4 223.4 214.8 223.0 212.0 222.7C209.2 222.4 207.0 221.7 204.2 221.4C201.4 221.1 197.4 221.1 195.0 221.1C192.6 221.1 191.9 221.0 189.5 221.2C187.1 221.4 183.5 221.8 180.4 222.5C177.3 223.2 174.0 224.3 171.2 225.1C168.4 225.9 166.0 226.9 163.4 227.3C160.8 227.7 158.1 228.1 155.5 227.7C152.9 227.3 150.1 226.4 147.7 225.1C145.3 223.8 142.9 222.0 141.1 219.9C139.2 217.8 137.9 215.4 136.6 212.7C135.3 210.0 134.2 206.8 133.3 203.5C132.4 200.2 131.6 195.8 131.3 193.1C131.0 190.3 131.3 189.5 131.3 187.0Z" fill="#fff"/>
<!-- Obama callout pointer in dark -->
<!-- lines -->
<polyline points="158.4,277.6 183.3,253.7 208.2,244.1 233.0,265.7 257.9,236.9 282.8,263.3 307.7,284.8 332.6,251.3" fill="none" stroke="#1e3443" stroke-width="3" stroke-linejoin="round"/><circle cx="158.4" cy="277.6" r="2.9" fill="#465058" stroke="#1e3443" stroke-width="2.8"/><circle cx="183.3" cy="253.7" r="2.9" fill="#465058" stroke="#1e3443" stroke-width="2.8"/><circle cx="208.2" cy="244.1" r="2.9" fill="#465058" stroke="#1e3443" stroke-width="2.8"/><circle cx="233.0" cy="265.7" r="2.9" fill="#465058" stroke="#1e3443" stroke-width="2.8"/><circle cx="257.9" cy="236.9" r="2.9" fill="#465058" stroke="#1e3443" stroke-width="2.8"/><circle cx="282.8" cy="263.3" r="2.9" fill="#465058" stroke="#1e3443" stroke-width="2.8"/><circle cx="307.7" cy="284.8" r="2.9" fill="#465058" stroke="#1e3443" stroke-width="2.8"/><circle cx="332.6" cy="251.3" r="2.9" fill="#465058" stroke="#1e3443" stroke-width="2.8"/>
<polyline points="158.4,323.1 183.3,330.3 208.2,339.9 233.0,351.8 257.9,361.4 282.8,327.9 307.7,306.4 332.6,337.5" fill="none" stroke="#561212" stroke-width="3" stroke-linejoin="round"/><circle cx="158.4" cy="323.1" r="2.9" fill="#7a3b3b" stroke="#561212" stroke-width="2.8"/><circle cx="183.3" cy="330.3" r="2.9" fill="#7a3b3b" stroke="#561212" stroke-width="2.8"/><circle cx="208.2" cy="339.9" r="2.9" fill="#7a3b3b" stroke="#561212" stroke-width="2.8"/><circle cx="233.0" cy="351.8" r="2.9" fill="#7a3b3b" stroke="#561212" stroke-width="2.8"/><circle cx="257.9" cy="361.4" r="2.9" fill="#7a3b3b" stroke="#561212" stroke-width="2.8"/><circle cx="282.8" cy="327.9" r="2.9" fill="#7a3b3b" stroke="#561212" stroke-width="2.8"/><circle cx="307.7" cy="306.4" r="2.9" fill="#7a3b3b" stroke="#561212" stroke-width="2.8"/><circle cx="332.6" cy="337.5" r="2.9" fill="#7a3b3b" stroke="#561212" stroke-width="2.8"/>
<g clip-path="url(#rg)"><polyline points="158.4,277.6 183.3,253.7 208.2,244.1 233.0,265.7 257.9,236.9 282.8,263.3 307.7,284.8 332.6,251.3" fill="none" stroke="#3f6d8d" stroke-width="3" stroke-linejoin="round"/><circle cx="158.4" cy="277.6" r="2.9" fill="#8fa0ac" stroke="#3f6d8d" stroke-width="2.8"/><circle cx="183.3" cy="253.7" r="2.9" fill="#8fa0ac" stroke="#3f6d8d" stroke-width="2.8"/><circle cx="208.2" cy="244.1" r="2.9" fill="#8fa0ac" stroke="#3f6d8d" stroke-width="2.8"/><circle cx="233.0" cy="265.7" r="2.9" fill="#8fa0ac" stroke="#3f6d8d" stroke-width="2.8"/><circle cx="257.9" cy="236.9" r="2.9" fill="#8fa0ac" stroke="#3f6d8d" stroke-width="2.8"/><circle cx="282.8" cy="263.3" r="2.9" fill="#8fa0ac" stroke="#3f6d8d" stroke-width="2.8"/><circle cx="307.7" cy="284.8" r="2.9" fill="#8fa0ac" stroke="#3f6d8d" stroke-width="2.8"/><circle cx="332.6" cy="251.3" r="2.9" fill="#8fa0ac" stroke="#3f6d8d" stroke-width="2.8"/></g>
<!-- gridlines -->
<line x1="155" y1="172.4" x2="371.5" y2="172.4" stroke="#555" stroke-width="1" stroke-dasharray="1 3.3"/>
<g stroke="#151515" stroke-width="1.2" stroke-dasharray="1.2 3.1" stroke-dashoffset="2.7" fill="none">
<line x1="149.4" y1="232.3" x2="374" y2="232.3" clip-path="url(#ni)"/>
<line x1="149.4" y1="232.3" x2="374" y2="232.3" clip-path="url(#ci)" stroke="#aaa" stroke-width="1"/>
<line x1="149.4" y1="292.2" x2="374" y2="292.2"/>
<line x1="149.4" y1="352.1" x2="374" y2="352.1"/>
</g>
<!-- axes -->
<g stroke="#0a0a0a" stroke-width="1.5" fill="none">
<line x1="150.5" y1="412.2" x2="374" y2="412.2"/>
<line x1="396.5" y1="412.2" x2="651.5" y2="412.2"/>
</g>
<g stroke="#0a0a0a" stroke-width="1.2" fill="none">
<line x1="158.4" y1="412" x2="158.4" y2="418.4"/><line x1="183.3" y1="412" x2="183.3" y2="418.4"/><line x1="208.2" y1="412" x2="208.2" y2="418.4"/><line x1="233.0" y1="412" x2="233.0" y2="418.4"/><line x1="257.9" y1="412" x2="257.9" y2="418.4"/><line x1="282.8" y1="412" x2="282.8" y2="418.4"/><line x1="307.7" y1="412" x2="307.7" y2="418.4"/><line x1="332.6" y1="412" x2="332.6" y2="418.4"/><line x1="357.4" y1="412" x2="357.4" y2="418.4"/>
</g>
<!-- bars -->
<rect x="422.9" y="248" width="76" height="163.7" fill="#2a2a2a"/>
<rect x="533.9" y="279.2" width="76" height="132.5" fill="#552d11"/>
<!-- Romney callout -->
<rect x="247.4" y="377.6" width="112" height="27" fill="#5f463f"/>
<polygon points="348,378 359.4,378 357.8,354" fill="#5f463f"/>
<!-- Obama pointer outside spotlight + markers -->
<g clip-path="url(#dk)"><polygon points="349,224 359.6,224 358.3,256" fill="#46596a"/></g>
<g filter="url(#sh)"><circle cx="358.3" cy="267.2" r="8" fill="#000" opacity="0.45"/><circle cx="358.3" cy="348.7" r="8" fill="#000" opacity="0.45"/></g>
<circle cx="357.5" cy="265.9" r="7.6" fill="#080808"/><circle cx="357.5" cy="265.9" r="6.3" fill="#2b5877"/><circle cx="357.5" cy="265.9" r="3.8" fill="#9c9c9c"/><circle cx="357.5" cy="265.9" r="2.4" fill="#050505"/>
<circle cx="357.5" cy="347.3" r="7.6" fill="#080808"/><circle cx="357.5" cy="347.3" r="6.3" fill="#8e1c1c"/><circle cx="357.5" cy="347.3" r="3.8" fill="#a4a4a4"/><circle cx="357.5" cy="347.3" r="2.4" fill="#050505"/>
<!-- text -->
<g fill="#050505">
<text class="t" y="80.5" font-size="24" stroke="#050505" stroke-width="1"><tspan x="119.3" textLength="35.5" lengthAdjust="spacingAndGlyphs">Big</tspan> <tspan x="163.5" textLength="62.5" lengthAdjust="spacingAndGlyphs">Lead,</tspan> <tspan x="234.8" textLength="57.5" lengthAdjust="spacingAndGlyphs">Little</tspan> <tspan x="300.9" textLength="130" lengthAdjust="spacingAndGlyphs">Excitement</tspan></text>
<text x="119.5" y="108" font-size="16.4" textLength="516" lengthAdjust="spacingAndGlyphs" stroke="#050505" stroke-width="0.5">Barack Obama has an advantage over Mitt Romney among Hispanic</text>
<text x="119.5" y="128.8" font-size="16.4" textLength="496" lengthAdjust="spacingAndGlyphs" stroke="#050505" stroke-width="0.5">voters, but they are less enthusiastic than the broader electorate.</text>
<text x="119.5" y="157.1" font-size="15" textLength="225" lengthAdjust="spacingAndGlyphs">HISPANIC VOTE FOR PRESIDENT</text>
<text x="396.4" y="157.1" font-size="15" textLength="194" lengthAdjust="spacingAndGlyphs">INTEREST IN THE ELECTION</text>
<text x="396.4" y="178" font-size="14.5" textLength="229" lengthAdjust="spacingAndGlyphs">Percentage who rate their interest</text>
<text x="396.4" y="193.9" font-size="14.5" textLength="222" lengthAdjust="spacingAndGlyphs">9 or 10 on a 10-point scale, where</text>
<text x="396.4" y="208.6" font-size="14.5" textLength="177" lengthAdjust="spacingAndGlyphs">10 means ‘very interested’</text>
<text y="179" font-size="16.5"><tspan x="119.3" textLength="26.6" lengthAdjust="spacingAndGlyphs" stroke="#050505" stroke-width="0.45">100</tspan><tspan x="146.2" y="178.8" font-size="14.5" fill="#6a6a6a" textLength="6.8" lengthAdjust="spacingAndGlyphs">%</tspan></text>
<text x="127.6" y="238" font-size="16.5" textLength="15.8" lengthAdjust="spacingAndGlyphs" stroke="#050505" stroke-width="0.3">75</text>
<text x="127.6" y="297.6" font-size="16.5" textLength="15.8" lengthAdjust="spacingAndGlyphs" stroke="#050505" stroke-width="0.3">50</text>
<text x="127.6" y="357.4" font-size="16.5" textLength="15.8" lengthAdjust="spacingAndGlyphs" stroke="#050505" stroke-width="0.3">25</text>
<text x="136" y="417.4" font-size="16.5" textLength="7.4" lengthAdjust="spacingAndGlyphs" stroke="#050505" stroke-width="0.3">0</text>
<text x="264.4" y="194.4" font-size="14" fill="#444" textLength="58" lengthAdjust="spacingAndGlyphs">May poll:</text>
<text y="217.8" font-size="16" stroke="#050505"><tspan x="261.7" textLength="52.5" lengthAdjust="spacingAndGlyphs" stroke-width="0.4">Obama</tspan> <tspan class="b" x="318.3" textLength="29.8" lengthAdjust="spacingAndGlyphs" stroke-width="0.5">61%</tspan></text>
<text y="397.8" font-size="16.4" stroke="#050505"><tspan x="253.2" textLength="59.5" lengthAdjust="spacingAndGlyphs" stroke-width="0.25">Romney</tspan> <tspan class="b" x="318" textLength="30.4" lengthAdjust="spacingAndGlyphs" stroke-width="0.5">27%</tspan></text>
<text class="b" x="172" y="288" font-size="15.2" stroke="#1e3443" stroke-width="0.3" fill="#1e3443" textLength="66" lengthAdjust="spacingAndGlyphs">Democrat</text>
<text class="b" x="172" y="318.2" font-size="15.2" stroke="#561212" stroke-width="0.3" fill="#561212" textLength="75" lengthAdjust="spacingAndGlyphs">Republican</text>
<g font-size="16.2" stroke="#050505" stroke-width="0.25">
<text x="166.8" y="436.4" textLength="32.8" lengthAdjust="spacingAndGlyphs">1984</text>
<text x="222.8" y="436.4" textLength="20.4" lengthAdjust="spacingAndGlyphs">’92</text>
<text x="264.5" y="436.4" textLength="34.2" lengthAdjust="spacingAndGlyphs">2000</text>
<text x="318.4" y="436.4" textLength="20.4" lengthAdjust="spacingAndGlyphs">’08</text>
</g>
<text class="b" x="347.6" y="436.4" font-size="16.2" textLength="18.6" lengthAdjust="spacingAndGlyphs" stroke="#050505" stroke-width="0.5">’12</text>
<text x="442.5" y="240.2" font-size="22" textLength="37.5" lengthAdjust="spacingAndGlyphs">69%</text>
<text y="272.6" font-size="22.5" stroke="#050505"><tspan class="b" x="553" textLength="23" lengthAdjust="spacingAndGlyphs" stroke-width="0.6">56</tspan><tspan x="576.6" textLength="14.4" lengthAdjust="spacingAndGlyphs" stroke-width="0.5">%</tspan></text>
<text x="430.6" y="436.2" font-size="16" textLength="61" lengthAdjust="spacingAndGlyphs">All voters</text>
<text class="b" x="538.9" y="436.2" font-size="16" textLength="66" lengthAdjust="spacingAndGlyphs">Hispanics</text>
<text x="119.8" y="460.2" font-size="13.8" stroke="#050505" stroke-width="0.2" textLength="508.5" lengthAdjust="spacingAndGlyphs">Sources: exit polls via Roper Center, University of Connecticut; WSJ/NBC News telephone poll</text>
<text x="119.8" y="475.6" font-size="13.8" stroke="#050505" stroke-width="0.2" textLength="518.5" lengthAdjust="spacingAndGlyphs">of 840 registered voters (overall) and 188 Hispanic registered voters conducted with Telemundo</text>
<text x="119.8" y="491" font-size="13.8" stroke="#050505" stroke-width="0.2" textLength="306" lengthAdjust="spacingAndGlyphs">May 16–21; full sample margin of error: +/–3.38 pct. pts.</text>
<text x="522.7" y="491" font-size="13.8" stroke="#050505" stroke-width="0.2" textLength="128.5" lengthAdjust="spacingAndGlyphs">The Wall Street Journal</text>
</g>
</svg>
</body></html>
